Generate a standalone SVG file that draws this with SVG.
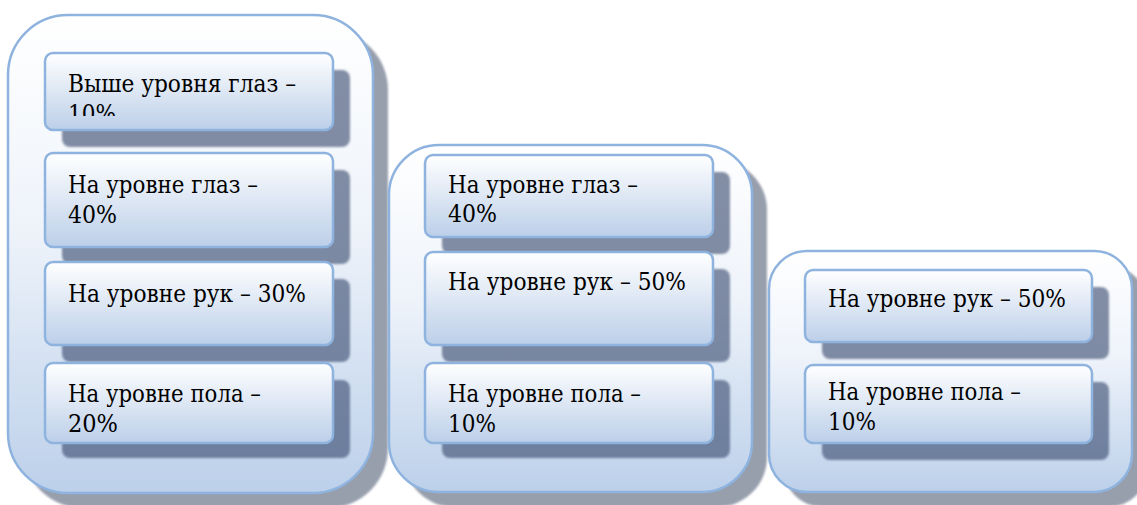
<svg xmlns="http://www.w3.org/2000/svg" width="1137" height="505" viewBox="0 0 1137 505">
<defs>
<linearGradient id="gCont" x1="0" y1="0" x2="0" y2="1">
<stop offset="0" stop-color="#ffffff"/>
<stop offset="0.45" stop-color="#eef3fa"/>
<stop offset="1" stop-color="#bcd0ea"/>
</linearGradient>
<linearGradient id="gBox" x1="0" y1="0" x2="0" y2="1">
<stop offset="0" stop-color="#ffffff"/>
<stop offset="1" stop-color="#bccfe9"/>
</linearGradient>
<filter id="blur" x="-10%" y="-10%" width="120%" height="120%">
<feGaussianBlur stdDeviation="1.2"/>
</filter>
<clipPath id="clipB1"><rect x="46" y="54" width="286" height="62"/></clipPath>
</defs>
<style>
.cshadow{fill:#979fad;filter:url(#blur)}
.cont{fill:url(#gCont);stroke:#8fb3df;stroke-width:2.5}
.bshadow{fill:#34466a;fill-opacity:0.6;filter:url(#blur)}
.box{fill:url(#gBox);stroke:#8fb3df;stroke-width:2.5}
text{font-size:24px;fill:#000}
</style>

<g id="container1">
<rect class="cshadow" x="23" y="30" width="365" height="478" rx="60"/>
<rect class="cont" x="8" y="15" width="365" height="478" rx="60"/>
</g>
<g id="container2">
<rect class="cshadow" x="404" y="160" width="363" height="347" rx="50"/>
<rect class="cont" x="389" y="145" width="363" height="347" rx="50"/>
</g>
<g id="container3">
<rect class="cshadow" x="784" y="266" width="363" height="241" rx="38"/>
<rect class="cont" x="769" y="251" width="363" height="241" rx="38"/>
</g>

<g font-family="DejaVu Serif, serif">
<g id="c1b1">
<rect class="bshadow" x="62" y="70" width="288" height="77" rx="8"/>
<rect class="box" x="45" y="53" width="288" height="77" rx="8"/>
<g clip-path="url(#clipB1)">
<text x="68" y="92" textLength="228" lengthAdjust="spacingAndGlyphs">Выше уровня глаз –</text>
<text x="68" y="122" textLength="48" lengthAdjust="spacingAndGlyphs">10%</text>
</g>
</g>
<g id="c1b2">
<rect class="bshadow" x="62" y="170" width="288" height="94" rx="8"/>
<rect class="box" x="45" y="153" width="288" height="94" rx="8"/>
<text x="68" y="193" textLength="190" lengthAdjust="spacingAndGlyphs">На уровне глаз –</text>
<text x="68" y="223" textLength="49" lengthAdjust="spacingAndGlyphs">40%</text>
</g>
<g id="c1b3">
<rect class="bshadow" x="62" y="279" width="288" height="83" rx="8"/>
<rect class="box" x="45" y="262" width="288" height="83" rx="8"/>
<text x="68" y="302" textLength="238" lengthAdjust="spacingAndGlyphs">На уровне рук – 30%</text>
</g>
<g id="c1b4">
<rect class="bshadow" x="62" y="380" width="288" height="78" rx="8"/>
<rect class="box" x="45" y="363" width="288" height="80" rx="8"/>
<text x="68" y="402" textLength="193" lengthAdjust="spacingAndGlyphs">На уровне пола –</text>
<text x="68" y="432" textLength="50" lengthAdjust="spacingAndGlyphs">20%</text>
</g>

<g id="c2b1">
<rect class="bshadow" x="442" y="172" width="288" height="82" rx="8"/>
<rect class="box" x="425" y="155" width="288" height="82" rx="8"/>
<text x="448" y="193" textLength="190" lengthAdjust="spacingAndGlyphs">На уровне глаз –</text>
<text x="448" y="222" textLength="49" lengthAdjust="spacingAndGlyphs">40%</text>
</g>
<g id="c2b2">
<rect class="bshadow" x="442" y="269" width="288" height="93" rx="8"/>
<rect class="box" x="425" y="252" width="288" height="93" rx="8"/>
<text x="448" y="290" textLength="238" lengthAdjust="spacingAndGlyphs">На уровне рук – 50%</text>
</g>
<g id="c2b3">
<rect class="bshadow" x="442" y="380" width="288" height="78" rx="8"/>
<rect class="box" x="425" y="363" width="288" height="80" rx="8"/>
<text x="448" y="402" textLength="193" lengthAdjust="spacingAndGlyphs">На уровне пола –</text>
<text x="448" y="432" textLength="48" lengthAdjust="spacingAndGlyphs">10%</text>
</g>

<g id="c3b1">
<rect class="bshadow" x="822" y="287" width="287" height="72" rx="8"/>
<rect class="box" x="805" y="270" width="287" height="72" rx="8"/>
<text x="828" y="307" textLength="238" lengthAdjust="spacingAndGlyphs">На уровне рук – 50%</text>
</g>
<g id="c3b2">
<rect class="bshadow" x="822" y="382" width="287" height="78" rx="8"/>
<rect class="box" x="805" y="365" width="287" height="78" rx="8"/>
<text x="828" y="400" textLength="193" lengthAdjust="spacingAndGlyphs">На уровне пола –</text>
<text x="828" y="430" textLength="48" lengthAdjust="spacingAndGlyphs">10%</text>
</g>
</g>

<g id="connectors"></g>
</svg>
